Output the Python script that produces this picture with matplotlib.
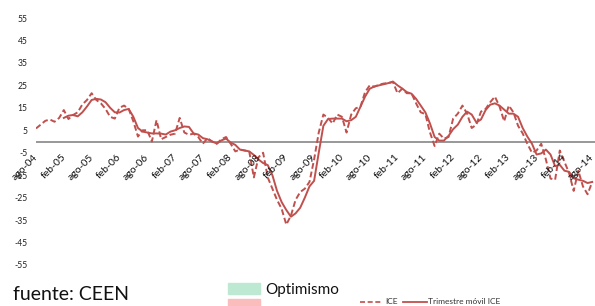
import numpy as np
import matplotlib
matplotlib.use("Agg")
import matplotlib.pyplot as plt
from matplotlib.lines import Line2D
from matplotlib.patches import Rectangle

plt.rcParams['font.family'] = ['Lato', 'DejaVu Sans']

# ---- data (monthly, ago-04 .. ago-14) ----
tick_labels = ['ago-04', 'feb-05', 'ago-05', 'feb-06', 'ago-06', 'feb-07', 'ago-07',
               'feb-08', 'ago-08', 'feb-09', 'ago-09', 'feb-10', 'ago-10', 'feb-11',
               'ago-11', 'feb-12', 'ago-12', 'feb-13', 'ago-13', 'feb-14', 'ago-14']

ice = [5.8, 7.5, 9.2, 9.8, 8.8, 10.5, 14.0, 10.0, 11.8, 13.0,
       16.5, 18.5, 21.5, 18.5, 17.0, 14.5, 11.0, 10.2, 15.0, 16.0,
       14.5, 9.0, 2.2, 5.0, 5.0, 0.0, 9.5, 1.0, 2.0, 3.0,
       3.5, 10.5, 4.0, 3.0, 3.5, 2.0, -1.0, 1.5, 0.0, -1.0,
       1.0, 2.0, -1.0, -4.4, -3.6, -4.0, -4.4, -16.0, -7.0, -5.0,
       -16.0, -21.0, -26.0, -30.0, -37.0, -33.0, -26.0, -22.5, -21.0, -18.0,
       -8.0, 4.0, 12.0, 10.5, 8.0, 12.0, 11.0, 4.0, 12.0, 14.8,
       15.5, 22.0, 25.0, 24.4, 25.3, 25.8, 26.0, 26.5, 21.5, 23.5,
       21.5, 21.5, 17.0, 13.0, 12.2, 4.0, -2.0, 3.5, 1.3, 2.0,
       10.2, 12.4, 16.0, 12.4, 6.0, 7.5, 13.3, 14.5, 17.5, 20.0,
       15.6, 9.0, 16.0, 13.0, 7.0, 3.6, -1.0, -5.0, -4.0, -1.0,
       -8.0, -16.5, -17.0, -4.0, -9.0, -14.0, -22.0, -13.0, -20.0, -23.5,
       -18.0]

trim = [np.nan, np.nan, np.nan, np.nan, np.nan, np.nan, 10.5, 11.5, 11.8, 11.2,
        13.0, 15.6, 18.5, 19.0, 18.7, 17.5, 15.0, 13.0, 12.9, 14.0,
        14.5, 11.0, 6.0, 4.4, 4.0, 3.6, 3.6, 3.5, 3.1, 4.4,
        5.0, 6.0, 6.7, 6.5, 3.6, 3.1, 1.5, 1.0, 0.0, -0.9,
        0.5, 1.3, -0.5, -1.5, -3.6, -4.0, -4.4, -6.0, -8.0, -9.6,
        -10.5, -15.0, -22.0, -27.0, -30.5, -33.5, -32.0, -29.5, -25.0, -20.0,
        -17.5, -5.0, 7.0, 10.0, 10.2, 10.2, 10.2, 9.0, 9.5, 11.0,
        15.5, 20.0, 23.5, 24.5, 25.0, 25.5, 26.0, 26.7, 25.0, 23.6,
        22.0, 21.3, 19.0, 16.0, 13.0, 8.0, 2.0, 0.4, 0.4, 2.5,
        5.5, 7.5, 11.0, 13.3, 12.0, 8.5, 9.8, 14.0, 16.4, 17.0,
        16.0, 14.2, 12.4, 12.4, 11.0, 6.0, 2.2, -1.0, -5.8, -5.3,
        -3.6, -5.8, -11.0, -10.4, -13.0, -13.5, -16.4, -17.0, -17.5, -18.5,
        -18.0]

y_ticks = [55, 45, 35, 25, 15, 5, -5, -15, -25, -35, -45, -55]

RED = '#c0504d'
W, H = 595, 306

fig = plt.figure(figsize=(W / 100, H / 100), dpi=100)
ax = fig.add_axes([36 / W, 1 - 265 / H, (W - 36) / W, (265 - 18) / H])

x = np.arange(len(ice))
ax.plot(x, ice, color=RED, lw=1.4, dashes=(3, 1.5))
ax.plot(x, trim, color=RED, lw=1.4)

ax.set_xlim(0, 120.6)
ax.set_ylim(-55, 55)
ax.axhline(0, color='#868686', lw=1.2, zorder=0)

for s in ax.spines.values():
    s.set_visible(False)
ax.set_xticks([])
ax.set_yticks(y_ticks)
ax.set_yticklabels([str(v) for v in y_ticks])
ax.tick_params(axis='y', length=0, pad=6, labelsize=6.2, labelcolor='#222222')

tick_pos = np.arange(0, len(ice), 6)
for p, lab in zip(tick_pos, tick_labels):
    ax.annotate(lab, xy=(p, 0), xytext=(-2, -8), textcoords='offset points',
                rotation=45, ha='right', va='top', rotation_mode='anchor',
                fontsize=7.5, color='#111111')

# bottom annotations / legend
fig.text(13 / W, 1 - 295 / H, 'fuente: CEEN', fontsize=14, va='center', ha='left',
         color='#111111')
fig.patches.append(Rectangle((228 / W, 1 - 294 / H), 32 / W, 11 / H,
                             transform=fig.transFigure, color='#bde9d3'))
fig.patches.append(Rectangle((228 / W, 0), 32 / W, 7 / H,
                             transform=fig.transFigure, color='#fbbcbc'))
fig.text(265 / W, 1 - 290 / H, 'Optimismo', fontsize=11, va='center', ha='left',
         color='#111111')

yl = 1 - 302 / H
fig.lines.append(Line2D([360 / W, 383 / W], [yl, yl], transform=fig.transFigure,
                        color=RED, lw=1.2, dashes=(3, 1.6)))
fig.text(385 / W, yl, 'ICE', fontsize=6, va='center', ha='left', color='#333333')
fig.lines.append(Line2D([403 / W, 427 / W], [yl, yl], transform=fig.transFigure,
                        color=RED, lw=1.3))
fig.text(428 / W, yl, 'Trimestre móvil ICE', fontsize=6, va='center', ha='left',
         color='#333333')

fig.savefig('out.png', dpi=100)
